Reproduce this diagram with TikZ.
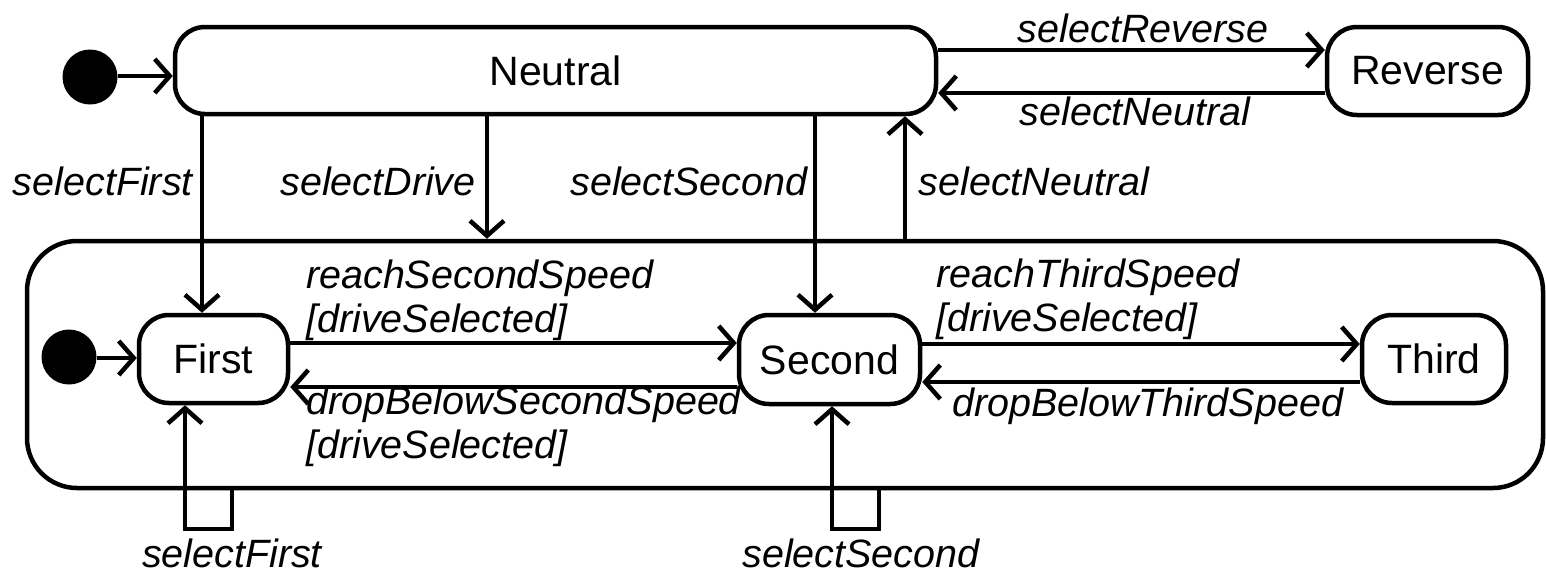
\documentclass[tikz,border=0pt]{standalone}
\usepackage{fontspec}
\setmainfont{Liberation Sans}
\usetikzlibrary{arrows.meta}
\newcommand\fsz[1]{\fontsize{#1}{44}\selectfont}
\tikzset{
  statebox/.style={draw, line width=4.5pt, rectangle, rounded corners=30pt, font=\fsz{41}, inner sep=0pt},
  superbox/.style={draw, line width=4.5pt, rectangle, rounded corners=50pt, inner sep=0pt},
  tr/.style={line width=4.5pt, -{Straight Barb[length=15pt,width=34pt,line width=4.5pt]}},
  lbl/.style={font=\itshape\fsz{39.5}, inner sep=0pt, align=left},
  initdot/.style={circle, fill=black, minimum size=55pt, inner sep=0pt},
}
\begin{document}
\begin{tikzpicture}[x=1pt,y=-1pt]
\useasboundingbox (0,0) rectangle (1546,574);
% states
\node[statebox, minimum width=761pt, minimum height=87pt] (N) at (555.5,70.5) {Neutral};
\node[statebox, minimum width=201pt, minimum height=88pt] (R) at (1427.5,71) {Reverse};
\node[superbox, minimum width=1516pt, minimum height=247pt] (S) at (785,364.5) {};
\node[statebox, minimum width=149pt, minimum height=88pt] (F) at (213.5,359) {First};
\node[statebox, minimum width=181pt, minimum height=89pt] (Sec) at (829.5,359.5) {Second};
\node[statebox, minimum width=144pt, minimum height=88pt] (T) at (1434,359) {Third};
\node[initdot] (i0) at (90,77) {};
\node[initdot] (i1) at (69,357) {};
% helper coordinates
\coordinate (yNR) at (0,50);
\coordinate (yRN) at (0,93);
\coordinate (yI0) at (0,76);
\coordinate (yI1) at (0,358);
\coordinate (xNF) at (202,0);
\coordinate (xND) at (487,0);
\coordinate (xNS) at (815,0);
\coordinate (xSN) at (905,0);
\coordinate (yFS) at (0,343);
\coordinate (ySF) at (0,387);
\coordinate (yST) at (0,344);
\coordinate (yTS) at (0,382);
\coordinate (l1a) at (232,529);
\coordinate (l1b) at (185,529);
\coordinate (l2a) at (879,529);
\coordinate (l2b) at (832,529);
% connectors
\draw[tr] (i0.east |- yI0) -- (N.west |- yI0);
\draw[tr] (i1.east |- yI1) -- (F.west |- yI1);
\draw[tr] (N.east |- yNR) -- (R.west |- yNR);
\draw[tr] (R.west |- yRN) -- (N.east |- yRN);
\draw[tr] (N.south -| xNF) -- (F.north -| xNF);
\draw[tr] (N.south -| xND) -- (S.north -| xND);
\draw[tr] (N.south -| xNS) -- (Sec.north -| xNS);
\draw[tr] (S.north -| xSN) -- (N.south -| xSN);
\draw[tr] (F.east |- yFS) -- (Sec.west |- yFS);
\draw[tr] (Sec.west |- ySF) -- (F.east |- ySF);
\draw[tr] (Sec.east |- yST) -- (T.west |- yST);
\draw[tr] (T.west |- yTS) -- (Sec.east |- yTS);
\draw[tr] (S.south -| l1a) -- (l1a) -- (l1b) -- (F.south -| l1b);
\draw[tr] (S.south -| l2a) -- (l2a) -- (l2b) -- (Sec.south -| l2b);
% labels
\node[lbl, anchor=base east] (t1) at (193,195) {selectFirst};
\node[lbl, anchor=base] (t2) at (378,195) {selectDrive};
\node[lbl, anchor=base] (t3) at (689,195) {selectSecond};
\node[lbl, anchor=base] (t4) at (1034,195) {selectNeutral};
\node[lbl, anchor=base] (t5) at (1143,42) {selectReverse};
\node[lbl, anchor=base] (t6) at (1135,125) {selectNeutral};
\node[lbl, anchor=base west] (t7) at (306,332) {reachSecondSpeed\\{}[driveSelected]};
\node[lbl, anchor=base west] (t8) at (306,458) {dropBelowSecondSpeed\\{}[driveSelected]};
\node[lbl, anchor=base west] (t9) at (936,331) {reachThirdSpeed\\{}[driveSelected]};
\node[lbl, anchor=base west] (t10) at (952,416) {dropBelowThirdSpeed};
\node[lbl, anchor=base] (t11) at (232,567) {selectFirst};
\node[lbl, anchor=base] (t12) at (861,567) {selectSecond};
\end{tikzpicture}
\end{document}
